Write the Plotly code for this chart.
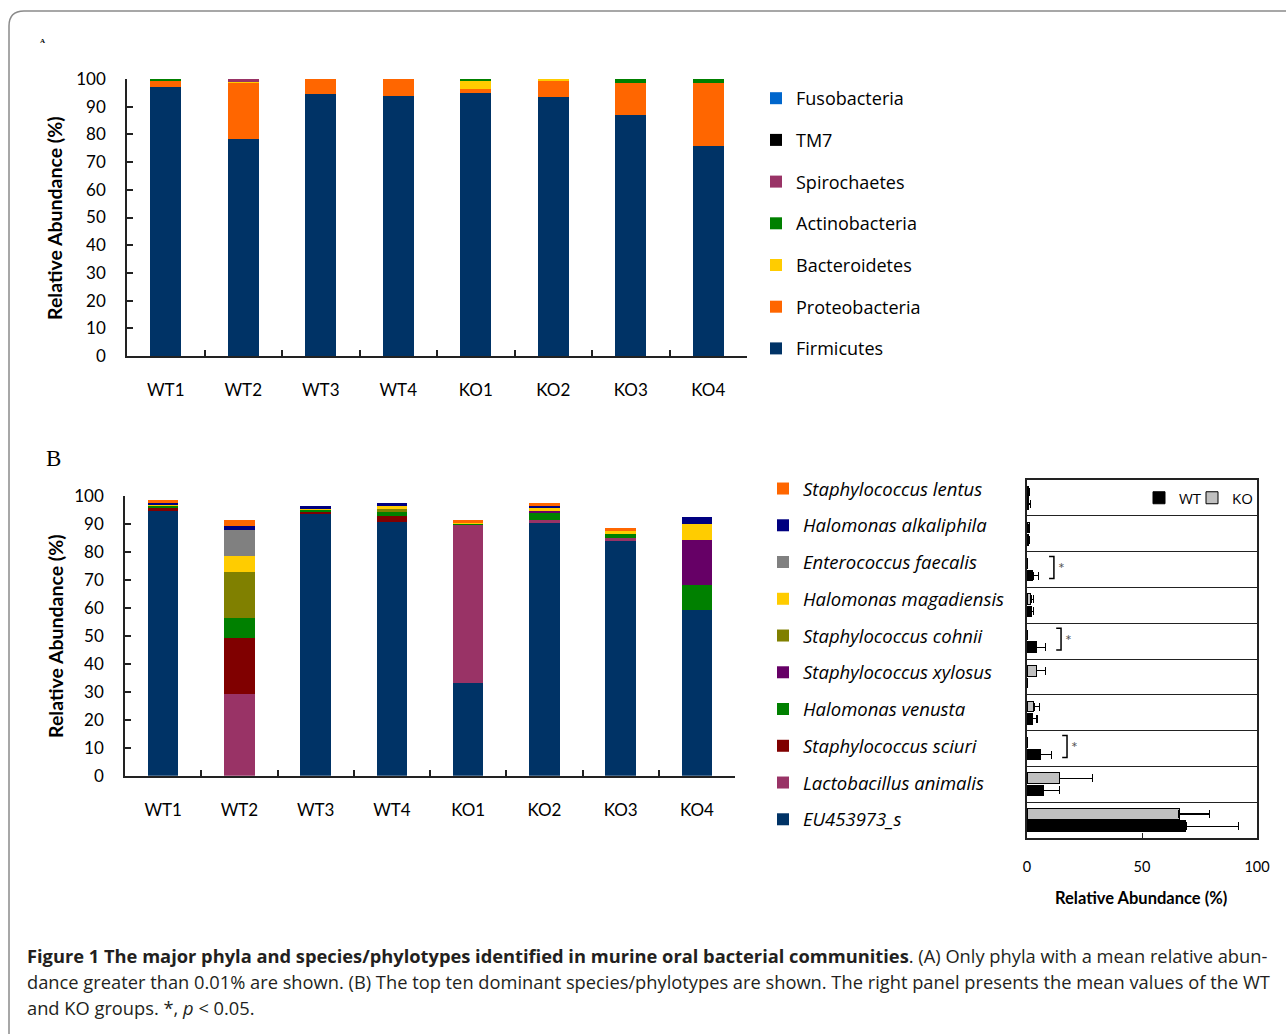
import plotly.graph_objects as go

W, H = 1286, 1034

# ---------------- data ----------------
samples = ["WT1", "WT2", "WT3", "WT4", "KO1", "KO2", "KO3", "KO4"]

# Panel A: phyla (stack order bottom -> top)
phyla = ["Firmicutes", "Proteobacteria", "Bacteroidetes", "Actinobacteria",
         "Spirochaetes", "TM7", "Fusobacteria"]
firmicutes     = [97.2, 78.3, 94.6, 93.9, 95.0, 93.6, 87.0, 75.8]
proteobacteria = [2.1, 20.3, 5.4, 6.1, 1.4, 5.7, 11.6, 22.8]
bacteroidetes  = [0.0, 0.3, 0.0, 0.0, 2.9, 0.7, 0.0, 0.0]
actinobacteria = [0.7, 0.0, 0.0, 0.0, 0.7, 0.0, 1.4, 1.4]
spirochaetes   = [0.0, 1.1, 0.0, 0.0, 0.0, 0.0, 0.0, 0.0]
tm7            = [0.02, 0.0, 0.01, 0.0, 0.02, 0.01, 0.0, 0.01]
fusobacteria   = [0.01, 0.0, 0.0, 0.01, 0.0, 0.02, 0.01, 0.0]
phyla_values = [firmicutes, proteobacteria, bacteroidetes, actinobacteria,
                spirochaetes, tm7, fusobacteria]
phyla_colors = ["#003366", "#FF6600", "#FFCC00", "#008000", "#993366",
                "#000000", "#0066CC"]

# Panel B: species (stack order bottom -> top)
species = ["EU453973_s", "Lactobacillus animalis", "Staphylococcus sciuri",
           "Halomonas venusta", "Staphylococcus xylosus", "Staphylococcus cohnii",
           "Halomonas magadiensis", "Enterococcus faecalis",
           "Halomonas alkaliphila", "Staphylococcus lentus"]
eu453973   = [94.5, 0.0, 93.9, 90.6, 33.1, 90.6, 84.2, 59.2]
l_animalis = [0.0, 29.2, 0.0, 0.0, 56.7, 0.7, 0.7, 0.0]
s_sciuri   = [1.1, 20.0, 0.3, 2.1, 0.0, 0.0, 0.0, 0.0]
h_venusta  = [1.1, 7.1, 1.1, 1.8, 0.5, 2.9, 1.4, 8.9]
s_xylosus  = [0.0, 0.0, 0.0, 0.0, 0.0, 0.7, 0.0, 16.1]
s_cohnii   = [0.0, 16.4, 0.0, 0.7, 0.0, 0.0, 0.0, 0.0]
h_magad    = [0.3, 5.7, 0.35, 1.4, 0.35, 0.7, 1.1, 5.7]
e_faecalis = [0.0, 9.3, 0.0, 0.0, 0.0, 0.0, 0.0, 0.0]
h_alkali   = [0.7, 1.4, 0.7, 0.7, 0.0, 1.1, 0.0, 2.5]
s_lentus   = [0.7, 2.1, 0.0, 0.0, 0.7, 0.7, 1.1, 0.0]
species_values = [eu453973, l_animalis, s_sciuri, h_venusta, s_xylosus, s_cohnii,
                  h_magad, e_faecalis, h_alkali, s_lentus]
species_colors = ["#003366", "#993366", "#800000", "#008000", "#660066",
                  "#808000", "#FFCC00", "#808080", "#000080", "#FF6600"]

# Right panel: group means (same order as species, bottom -> top)
wt_mean = [69.1, 7.2, 6.0, 2.5, 0.0, 4.0, 2.0, 2.6, 0.7, 0.7]
wt_err  = [23.0, 6.9, 4.6, 1.8, 0.0, 4.0, 0.9, 2.3, 0.4, 0.7]
ko_mean = [66.1, 14.1, 0.0, 3.0, 4.0, 0.0, 1.7, 0.0, 0.9, 0.5]
ko_err  = [13.1, 14.4, 0.0, 2.5, 4.0, 0.0, 1.2, 0.0, 0.3, 0.4]
significant = ["Enterococcus faecalis", "Staphylococcus cohnii", "Staphylococcus sciuri"]

# ---------------- helpers ----------------
def px(x):
    return x / W

def py(y):
    return 1 - y / H

TICKFONT = dict(family="Lato", size=17, color="black")
AXLINE = "#222222"

fig = go.Figure()

n_ph = len(phyla)
for k, (name, vals, col) in enumerate(zip(phyla, phyla_values, phyla_colors)):
    fig.add_trace(go.Bar(x=samples, y=vals, name=name, legend="legend",
                         legendgroup="a_" + name, legendrank=n_ph - k,
                         marker=dict(color=col, line=dict(width=0)),
                         xaxis="x", yaxis="y"))

n_sp = len(species)
for k, (name, vals, col) in enumerate(zip(species, species_values, species_colors)):
    fig.add_trace(go.Bar(x=samples, y=vals, name=name, legend="legend2",
                         legendgroup="b_" + name, legendrank=n_sp - k,
                         marker=dict(color=col, line=dict(width=0)),
                         xaxis="x2", yaxis="y2"))

rows = list(range(len(species)))
fig.add_trace(go.Bar(
    y=[r - 0.17 for r in rows], x=wt_mean, orientation="h", width=0.3, name="WT",
    legend="legend3", marker=dict(color="black", line=dict(color="black", width=1)),
    error_x=dict(type="data", array=wt_err, arrayminus=[0] * len(rows), symmetric=False,
                 color="black", thickness=1.3, width=4),
    xaxis="x3", yaxis="y3"))
fig.add_trace(go.Bar(
    y=[r + 0.17 for r in rows], x=ko_mean, orientation="h", width=0.3, name="KO",
    legend="legend4", marker=dict(color="#C0C0C0", line=dict(color="black", width=1)),
    error_x=dict(type="data", array=ko_err, arrayminus=[0] * len(rows), symmetric=False,
                 color="black", thickness=1.3, width=4),
    xaxis="x3", yaxis="y3"))

# significance brackets
shapes = []
annotations = []
for name in significant:
    i = species.index(name)
    end = max(wt_mean[i] + wt_err[i], ko_mean[i] + ko_err[i])
    x0 = end + 4.7
    x1 = x0 + 2.1
    y0, y1 = i - 0.25, i + 0.36
    shapes.append(dict(type="path", xref="x3", yref="y3",
                       path=f"M {x0},{y1} L {x1},{y1} L {x1},{y0} L {x0},{y0}",
                       line=dict(color="black", width=1.5)))
    annotations.append(dict(x=x1 + 3.4, y=i + 0.05, xref="x3", yref="y3", text="*",
                            xanchor="center", yanchor="middle", showarrow=False,
                            font=dict(family="Lato", size=16, color="#555555")))

# frame
shapes.append(dict(type="path", xref="paper", yref="paper",
                   path=(f"M {px(9)},{py(1040)} L {px(9)},{py(26)} "
                         f"Q {px(9)},{py(11)} {px(24)},{py(11)} L {px(1300)},{py(11)}"),
                   line=dict(color="#8a8a8a", width=1.5)))

# labels
def label(x, y, text, font, angle=0):
    return dict(x=px(x), y=py(y), xref="paper", yref="paper", text=text,
                xanchor="center", yanchor="middle", textangle=angle,
                showarrow=False, font=font)

annotations += [
    label(42, 41, "<b>A</b>", dict(family="Liberation Serif", size=7, color="black")),
    label(53, 458, "B", dict(family="Liberation Serif", size=23, color="black")),
    label(55, 218, "<b>Relative Abundance (%)</b>", dict(family="Lato", size=19.5, color="black"), -90),
    label(55, 636, "<b>Relative Abundance (%)</b>", dict(family="Lato", size=19.5, color="black"), -90),
    label(1141, 898, "<b>Relative Abundance (%)</b>", dict(family="Lato", size=16.5, color="black")),
]

caption_lines = [
    "<b>Figure 1 The major phyla and species/phylotypes identified in murine oral bacterial communities</b>. (A) Only phyla with a mean relative abun-",
    "dance greater than 0.01% are shown. (B) The top ten dominant species/phylotypes are shown. The right panel presents the mean values of the WT",
    "and KO groups. *, <i>p</i> &lt; 0.05.",
]
for k, line in enumerate(caption_lines):
    annotations.append(dict(x=px(25), y=py(955 + 26 * k), xref="paper", yref="paper",
                            xanchor="left", yanchor="middle", text=line, showarrow=False,
                            font=dict(family="Open Sans", size=18.3, color="#231f20")))

common_x = dict(type="category", showline=True, linecolor=AXLINE, linewidth=1.5,
                ticks="inside", tickson="boundaries", ticklen=6, tickwidth=1.5,
                tickcolor=AXLINE, showgrid=False, tickfont=TICKFONT,
                ticklabelstandoff=18, fixedrange=True)
common_y = dict(range=[0, 100], dtick=10, showline=True, linecolor=AXLINE, linewidth=1.5,
                ticks="inside", ticklen=6, tickwidth=1.5, tickcolor=AXLINE,
                showgrid=False, zeroline=False, tickfont=TICKFONT,
                ticklabelstandoff=16, fixedrange=True)

small_legend = dict(y=py(498), xanchor="left", yanchor="middle",
                    orientation="h", traceorder="normal",
                    font=dict(family="Open Sans", size=15, color="black"),
                    bgcolor="rgba(0,0,0,0)")

fig.update_layout(
    width=W, height=H,
    margin=dict(l=0, r=0, t=0, b=0, autoexpand=False),
    paper_bgcolor="white", plot_bgcolor="white",
    barmode="stack", bargap=0.6,
    font=dict(family="Lato", color="black"),
    xaxis=dict(common_x, domain=[px(127), px(747)], anchor="y"),
    yaxis=dict(common_y, domain=[py(356), py(79)], anchor="x"),
    xaxis2=dict(common_x, domain=[px(125), px(735)], anchor="y2"),
    yaxis2=dict(common_y, domain=[py(775.7), py(495.7)], anchor="x2"),
    xaxis3=dict(domain=[px(1027), px(1257)], anchor="y3", range=[0, 100],
                tickvals=[0, 50, 100], ticks="inside", ticklen=5, tickwidth=1.3,
                tickcolor=AXLINE, showline=True, mirror=True, linecolor=AXLINE,
                linewidth=1.5, showgrid=False, zeroline=False,
                tickfont=dict(family="Lato", size=14.5, color="black"),
                ticklabelstandoff=15, fixedrange=True),
    yaxis3=dict(domain=[py(838), py(480)], anchor="x3", range=[-0.5, 9.5],
                tickvals=[r + 0.5 for r in rows[:-1]], showticklabels=False, ticks="",
                showgrid=True, gridcolor=AXLINE, gridwidth=1.3, showline=True,
                mirror=True, linecolor=AXLINE, linewidth=1.5, zeroline=False,
                fixedrange=True),
    legend=dict(x=px(756), y=py(80), xanchor="left", yanchor="top",
                traceorder="grouped", tracegroupgap=15.3,
                font=dict(family="Open Sans", size=18, color="black"),
                bgcolor="rgba(0,0,0,0)"),
    legend2=dict(x=px(763), y=py(470), xanchor="left", yanchor="top",
                 traceorder="grouped", tracegroupgap=9.7,
                 font=dict(family="Open Sans", size=18.5, color="black", style="italic"),
                 bgcolor="rgba(0,0,0,0)"),
    legend3=dict(small_legend, x=px(1139)),
    legend4=dict(small_legend, x=px(1192)),
    shapes=shapes,
    annotations=annotations,
)

fig.write_html("out.html")
